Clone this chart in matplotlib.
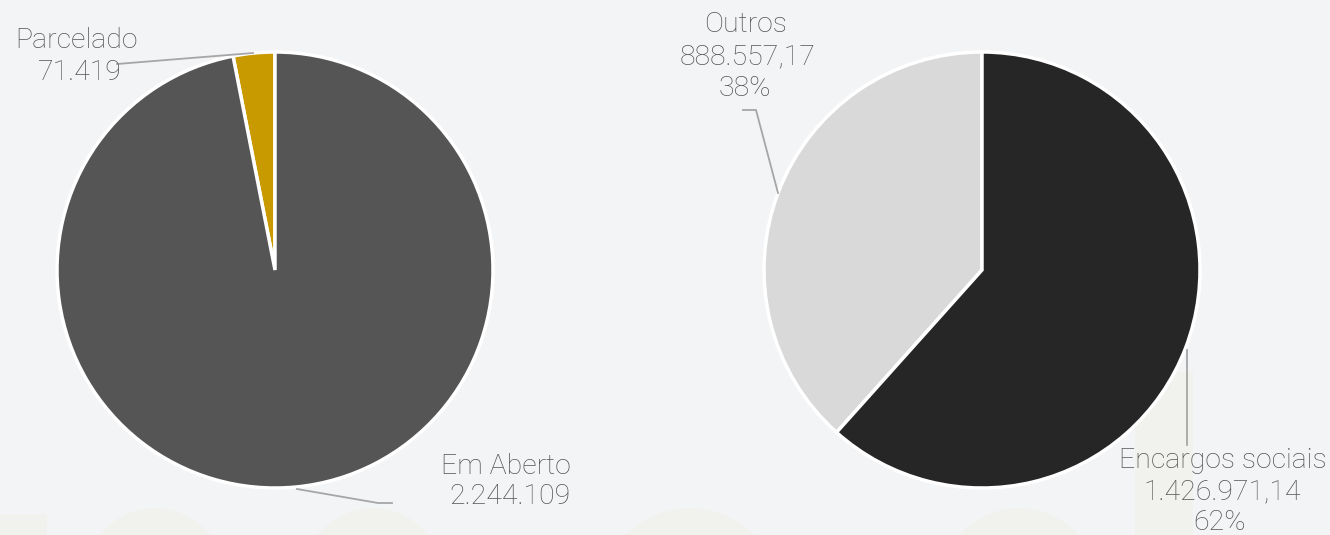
import matplotlib.pyplot as plt
from matplotlib.patches import Ellipse, Rectangle

# data
left_labels = ["Parcelado", "Em Aberto"]
left_values = [71419, 2244109]
left_text = ["71.419", "2.244.109"]
left_colors = ["#c99a00", "#555555"]

right_labels = ["Outros", "Encargos sociais"]
right_values = [888557.17, 1426971.14]
right_text = ["888.557,17", "1.426.971,14"]
right_pct = ["38%", "62%"]
right_colors = ["#d9d9d9", "#262626"]

W, H = 1330, 535
bg = "#f3f4f6"
txt_color = "#555555"
line_color = "#a6a6a6"

fig = plt.figure(figsize=(W / 100, H / 100), dpi=100, facecolor=bg)
ax = fig.add_axes([0, 0, 1, 1])

def y(p):
    return H - p

# faint decorative shapes along the bottom
deco = "#f1f1ed"
ax.add_patch(Rectangle((0, 0), 47, y(514), color=deco, zorder=0, lw=0))
for cx, w in [(155, 170), (373, 170), (690, 195), (1019, 182)]:
    ax.add_patch(Ellipse((cx, y(508) - 110), w, 220, color=deco, zorder=0, lw=0))
ax.add_patch(Rectangle((1135, 0), 58, y(372), color=deco, zorder=0, lw=0))

wp = dict(edgecolor="white", linewidth=2.5)
ax.pie(left_values, colors=left_colors, startangle=90, counterclock=True,
       center=(275, y(270)), radius=218, wedgeprops=wp, frame=True)
ax.pie(right_values, colors=right_colors, startangle=90, counterclock=True,
       center=(982, y(270)), radius=218, wedgeprops=wp, frame=True)
ax.set_xlim(0, W)
ax.set_ylim(0, H)
ax.set_aspect("equal")
ax.axis("off")

fp = dict(fontsize=20.5, color=txt_color, family="Roboto", fontweight="light",
          ha="center", va="center")

# left labels
ax.text(77, y(40), left_labels[0], **fp)
ax.text(80, y(73), left_text[0], **fp)
ax.plot([117, 253], [y(64), y(53)], color=line_color, lw=1.3)

ax.text(506, y(467), left_labels[1], **fp)
ax.text(510, y(497), left_text[1], **fp)
ax.plot([297, 378, 392], [y(489), y(503), y(503)], color=line_color, lw=1.3)

# right labels
ax.text(746, y(25), right_labels[0], **fp)
ax.text(748, y(57), right_text[0], **fp)
ax.text(745, y(89), right_pct[0], **fp)
ax.plot([743, 756, 778], [y(110), y(110), y(193)], color=line_color, lw=1.3)

ax.text(1223, y(460), right_labels[1], **fp)
ax.text(1222, y(492), right_text[1], **fp)
ax.text(1220, y(523), right_pct[1], **fp)
ax.plot([1187, 1187], [y(350), y(445)], color=line_color, lw=1.3)

fig.savefig("out.png", dpi=100, facecolor=bg)
